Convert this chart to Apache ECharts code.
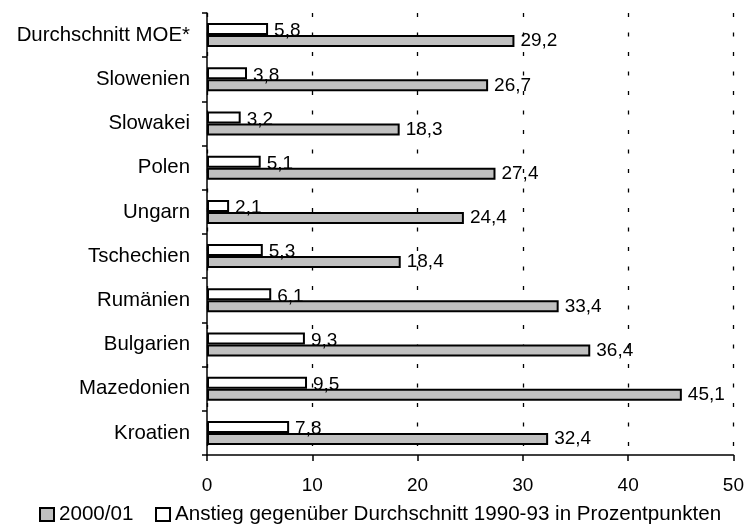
<!DOCTYPE html>
<html><head><meta charset="utf-8">
<script src="https://cdn.jsdelivr.net/npm/echarts@6/dist/echarts.min.js"></script>
<style>html,body{margin:0;padding:0;background:#fff}#c{width:747px;height:527px}</style>
</head><body><div id="c"></div>
<script>
const categories = ['Durchschnitt MOE*','Slowenien','Slowakei','Polen','Ungarn','Tschechien','Rumänien','Bulgarien','Mazedonien','Kroatien'];
const values2000 = [29.2,26.7,18.3,27.4,24.4,18.4,33.4,36.4,45.1,32.4];
const valuesAnstieg = [5.8,3.8,3.2,5.1,2.1,5.3,6.1,9.3,9.5,7.8];
const xTicks = [0,10,20,30,40,50];
const seriesNames = ['2000/01','Anstieg gegenüber Durchschnitt 1990-93 in Prozentpunkten'];

const FONT = 'Liberation Sans, Arial, sans-serif';
const fmt = p => String(p.value).replace('.', ',');
const legendCommon = {
  top:504,padding:0,itemWidth:14,itemHeight:13,icon:'rect',
  textStyle:{fontSize:20.6,color:'#000',fontFamily:FONT}
};
const chart = echarts.init(document.getElementById('c'), null, {renderer:'canvas'});
chart.setOption({
  animation:false,
  textStyle:{fontFamily:FONT},
  grid:{left:207,right:13,top:13,bottom:72,containLabel:false},
  legend:[
    Object.assign({data:[seriesNames[0]],left:39}, legendCommon),
    Object.assign({data:[seriesNames[1]],left:155}, legendCommon)
  ],
  xAxis:{
    type:'value',min:xTicks[0],max:xTicks[xTicks.length-1],interval:10,
    axisLine:{show:true,lineStyle:{color:'#000',width:1.5}},
    axisTick:{show:true,length:6,lineStyle:{color:'#000',width:1.5}},
    axisLabel:{fontSize:19,color:'#000',margin:21,fontFamily:FONT},
    splitLine:{show:true,lineStyle:{color:'#000',type:[4,15.5],width:1.3}}
  },
  yAxis:{
    type:'category',data:categories,inverse:true,
    axisLine:{show:true,lineStyle:{color:'#000',width:1.5}},
    axisTick:{show:true,length:5,lineStyle:{color:'#000',width:1.5}},
    axisLabel:{fontSize:20.4,color:'#000',margin:17,fontFamily:FONT,padding:[0,0,6,0]},
    splitLine:{show:false}
  },
  series:[
    {name:seriesNames[1],type:'bar',data:valuesAnstieg,barWidth:12,barGap:'0%',
     itemStyle:{color:'#fff',borderColor:'#000',borderWidth:2},
     label:{show:true,position:'right',distance:6,offset:[0,2],formatter:fmt,fontSize:19,color:'#000',fontFamily:FONT}},
    {name:seriesNames[0],type:'bar',data:values2000,barWidth:12,barGap:'0%',
     itemStyle:{color:'#c0c0c0',borderColor:'#000',borderWidth:2},
     label:{show:true,position:'right',distance:6,formatter:fmt,fontSize:19,color:'#000',fontFamily:FONT}}
  ]
});
</script></body></html>
